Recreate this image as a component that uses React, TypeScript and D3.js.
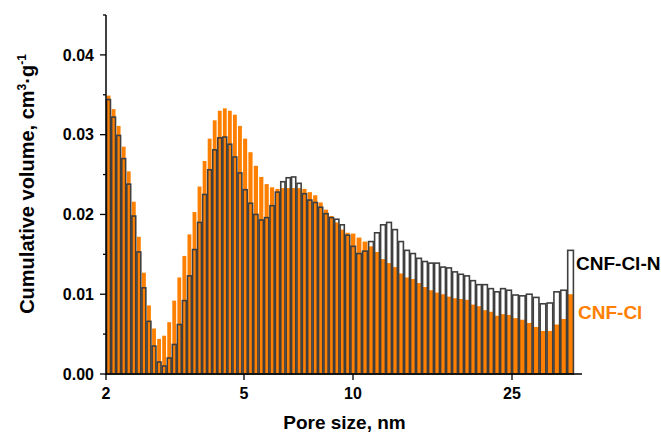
import React from "react";
import * as d3 from "d3";

// Pore-size tick labels and the bar index at which each sits
const poreTickLabels = ["2", "5", "10", "25"];
const poreTickIndex = [0, 27.3, 47.5, 74];

// Cumulative volume per bin (cm3/g)
const cnfClN = [
  0.0344, 0.0322, 0.0299, 0.0270, 0.0238, 0.0198, 0.0153, 0.0108, 0.0066, 0.0035,
  0.0015, 0.0010, 0.0020, 0.0037, 0.0062, 0.0092, 0.0123, 0.0156, 0.0190, 0.0225,
  0.0256, 0.0281, 0.0296, 0.0297, 0.0288, 0.0272, 0.0252, 0.0231, 0.0214, 0.0200,
  0.0193, 0.0196, 0.0211, 0.0228, 0.0241, 0.0246, 0.0247, 0.0239, 0.0226, 0.0218,
  0.0215, 0.0209, 0.0201, 0.0196, 0.0194, 0.0187, 0.0174, 0.0160, 0.0151, 0.0154,
  0.0166, 0.0177, 0.0187, 0.0190, 0.0181, 0.0166, 0.0155, 0.0151, 0.0145, 0.0141,
  0.0139, 0.0139, 0.0134, 0.0133, 0.0128, 0.0125, 0.0123, 0.0117, 0.0112, 0.0112,
  0.0107, 0.0103, 0.0107, 0.0105, 0.0099, 0.0098, 0.0100, 0.0096, 0.0088, 0.0089,
  0.0103, 0.0105, 0.0155,
];

const cnfCl = [
  0.0349, 0.0332, 0.0311, 0.0285, 0.0254, 0.0216, 0.0172, 0.0127, 0.0086, 0.0057,
  0.0044, 0.0048, 0.0065, 0.0092, 0.0121, 0.0148, 0.0175, 0.0203, 0.0235, 0.0267,
  0.0295, 0.0318, 0.0330, 0.0333, 0.0330, 0.0325, 0.0311, 0.0295, 0.0278, 0.0261,
  0.0247, 0.0238, 0.0234, 0.0232, 0.0233, 0.0233, 0.0233, 0.0233, 0.0232, 0.0228,
  0.0224, 0.0215, 0.0206, 0.0198, 0.0190, 0.0181, 0.0177, 0.0176, 0.0171, 0.0166,
  0.0160, 0.0153, 0.0144, 0.0139, 0.0134, 0.0126, 0.0121, 0.0119, 0.0114, 0.0109,
  0.0105, 0.0102, 0.0100, 0.0097, 0.0095, 0.0094, 0.0093, 0.0087, 0.0085, 0.0080,
  0.0078, 0.0073, 0.0075, 0.0074, 0.0070, 0.0068, 0.0064, 0.0059, 0.0054, 0.0054,
  0.0062, 0.0069, 0.0100,
];

const yTickValues = [0, 0.005, 0.01, 0.015, 0.02, 0.025, 0.03, 0.035, 0.04, 0.045];

const W = 661;
const H = 434;
const ORANGE = "#FF8000";
const DARK = "#3f3f3f";
const FONT = "'Liberation Sans', Arial, Helvetica, sans-serif";

export default function App() {
  const nBars = cnfClN.length;
  const x = d3
    .scaleLinear()
    .domain([...poreTickIndex, nBars])
    .range([106, 244, 353, 512, 574]);
  const xAxisEnd = x(nBars) + 8;
  const y = d3.scaleLinear().domain([0, 0.045]).range([374, 15]);
  const y0 = y(0);
  const fmt = d3.format(".2f");

  const inset = 0.6;

  return (
    <svg
      width={W}
      height={H}
      style={{ position: "absolute", left: 0, top: 0, background: "#fff" }}
      fontFamily={FONT}
    >
      {/* orange bars (CNF-Cl) */}
      <g>
        {cnfCl.map((v, i) => {
          const x0 = x(i) + inset;
          const x1 = x(i + 1) - inset;
          return (
            <rect
              key={"o" + i}
              x={x0}
              y={y(v)}
              width={x1 - x0}
              height={y0 - y(v)}
              fill={ORANGE}
            />
          );
        })}
      </g>
      {/* hollow outlined bars (CNF-Cl-N) */}
      <g>
        {cnfClN.map((v, i) => {
          const x0 = x(i) + inset;
          const x1 = x(i + 1) - inset;
          return (
            <rect
              key={"b" + i}
              x={x0}
              y={y(v)}
              width={x1 - x0}
              height={y0 - y(v)}
              fill="none"
              stroke={DARK}
              strokeWidth={1.6}
            />
          );
        })}
      </g>

      {/* Y axis */}
      <line x1={106} x2={106} y1={y(0.045)} y2={y0 + 0.75} stroke="#000" strokeWidth={1.5} />
      {yTickValues.map((t, i) => {
        const major = i % 2 === 0;
        return (
          <g key={"yt" + i}>
            <line
              x1={106}
              x2={major ? 100 : 103}
              y1={y(t)}
              y2={y(t)}
              stroke="#000"
              strokeWidth={1.3}
            />
            {major && (
              <text
                x={94}
                y={y(t)}
                dy="0.36em"
                textAnchor="end"
                fontSize={16}
                fontWeight="bold"
                fill="#000"
              >
                {fmt(t)}
              </text>
            )}
          </g>
        );
      })}

      {/* X axis */}
      <line x1={105.25} x2={xAxisEnd} y1={y0} y2={y0} stroke="#000" strokeWidth={1.5} />
      {poreTickLabels.map((lab, i) => {
        const px = x(poreTickIndex[i]);
        return (
          <g key={"xt" + i}>
            <line x1={px} x2={px} y1={y0} y2={y0 + 6} stroke="#000" strokeWidth={1.3} />
            <text
              x={px}
              y={399}
              textAnchor="middle"
              fontSize={16}
              fontWeight="bold"
              fill="#000"
            >
              {lab}
            </text>
          </g>
        );
      })}

      {/* Axis titles */}
      <text
        x={344.5}
        y={429}
        textAnchor="middle"
        fontSize={19}
        fontWeight="bold"
        fill="#000"
      >
        Pore size, nm
      </text>
      <text
        transform="translate(33.5,184) rotate(-90)"
        textAnchor="middle"
        fontSize={20}
        fontWeight="bold"
        fill="#000"
      >
        Cumulative volume, cm
        <tspan dy={-8} fontSize={12}>
          3
        </tspan>
        <tspan dy={8}>·g</tspan>
        <tspan dy={-8} fontSize={12}>
          -1
        </tspan>
      </text>

      {/* Series labels */}
      <text x={576} y={269.5} fontSize={19} fontWeight="bold" fill="#000">
        CNF-Cl-N
      </text>
      <text x={578} y={319} fontSize={19} fontWeight="bold" fill={ORANGE}>
        CNF-Cl
      </text>
    </svg>
  );
}
